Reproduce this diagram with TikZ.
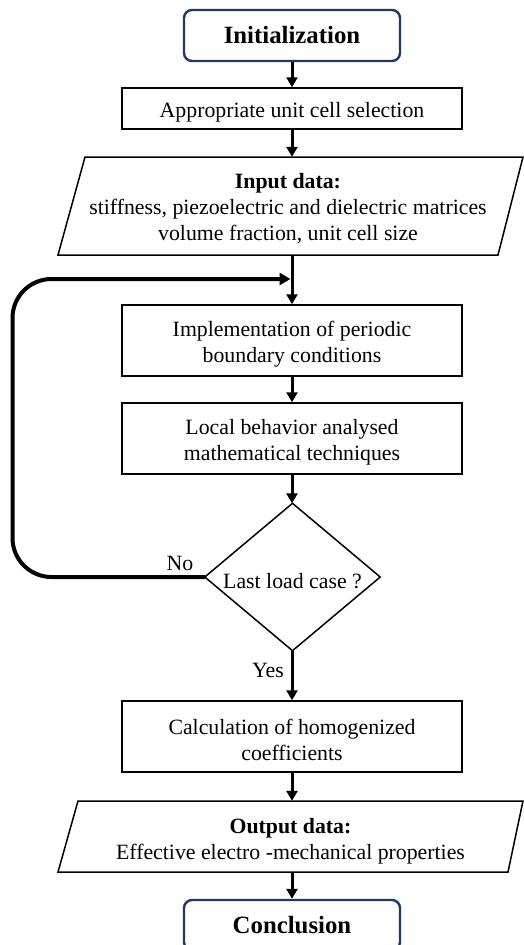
\documentclass[tikz,border=0pt]{standalone}
\usepackage{fontspec}
\setmainfont{Liberation Serif}
\usetikzlibrary{arrows.meta}
\definecolor{navy}{RGB}{31,56,100}
\newcommand\tdn{\rule{0pt}{23pt}}
\tikzset{
  base/.style={inner sep=0pt, align=center, font=\fontsize{21.8}{26}\selectfont},
  term/.style={base, draw=navy, line width=2.4pt, rounded corners=8pt,
    minimum width=216pt, font=\fontsize{24.8}{26}\selectfont\bfseries},
  procbox/.style={base, draw, line width=1.5pt, minimum width=340pt},
  shapeline/.style={draw, line width=1.5pt, line join=miter},
  flow/.style={line width=3pt, -{Triangle[width=11pt,length=10pt]}},
  loopline/.style={line width=4pt, rounded corners=39pt, -{Triangle[width=12pt,length=11pt]}},
  lbl/.style={font=\fontsize{21.8}{26}\selectfont, inner sep=0pt}
}
\begin{document}
\begin{tikzpicture}[x=1pt, y=-1pt]
\useasboundingbox (0,0) rectangle (523,945);
% nodes
\node[term, minimum height=51pt] (init) at (292,35.5) {Initialization};
\node[procbox, minimum height=41pt] (cell) at (292,108.5) {\tdn Appropriate unit cell selection};
\node[base, minimum width=440pt, minimum height=98pt] (inp) at (292,206) {};
\node[base] (inpt) at (288,209)
  {{\bfseries Input data:}\\stiffness, piezoelectric and dielectric matrices\\volume fraction, unit cell size};
\node[procbox, minimum height=71pt] (pbc) at (292,340.5) {\tdn Implementation of periodic\\boundary conditions};
\node[procbox, minimum height=71pt] (loc) at (292,438.5) {\tdn Local behavior analysed\\mathematical techniques};
\node[base, minimum width=175pt, minimum height=147pt] (dec) at (292.5,577) {\tdn Last load case ?};
\node[procbox, minimum height=71pt] (hom) at (292,736.5) {\tdn Calculation of homogenized\\coefficients};
\node[base, minimum width=445pt, minimum height=71pt] (out) at (290.5,836.5) {};
\node[base] (outt) at (290.5,841)
  {{\bfseries Output data:}\\Effective electro -mechanical properties};
\node[term, minimum height=50pt] (conc) at (292,925) {Conclusion};
% parallelograms and diamond
\draw[shapeline] (85,157) -- (523,157) -- (498,255) -- (58,255) -- cycle;
\draw[shapeline] (78,801) -- (523,801) -- (508,872) -- (58,872) -- cycle;
\draw[shapeline] (dec.north) -- (dec.east) -- (dec.south) -- (dec.west) -- cycle;
% labels
\node[lbl] (no) at (180,563) {No};
\node[lbl] (yes) at (268,670) {Yes};
% connectors
\draw[flow] (init.south) -- (cell.north);
\draw[flow] (cell.south) -- (cell.south |- inp.north);
\draw[flow] (pbc.north |- inp.south) -- (pbc.north);
\draw[flow] (pbc.south) -- (loc.north);
\draw[flow] (loc.south) -- (loc.south |- dec.north);
\draw[flow] (hom.north |- dec.south) -- (hom.north);
\draw[flow] (hom.south) -- (hom.south |- out.north);
\draw[flow] (conc.north |- out.south) -- (conc.north);
\coordinate (c1) at (12.5,577);
\coordinate (c2) at (12.5,279);
\coordinate (j) at (290.5,279);
\draw[loopline] (dec.west) -- (c1) -- (c2) -- (j);
\end{tikzpicture}
\end{document}
